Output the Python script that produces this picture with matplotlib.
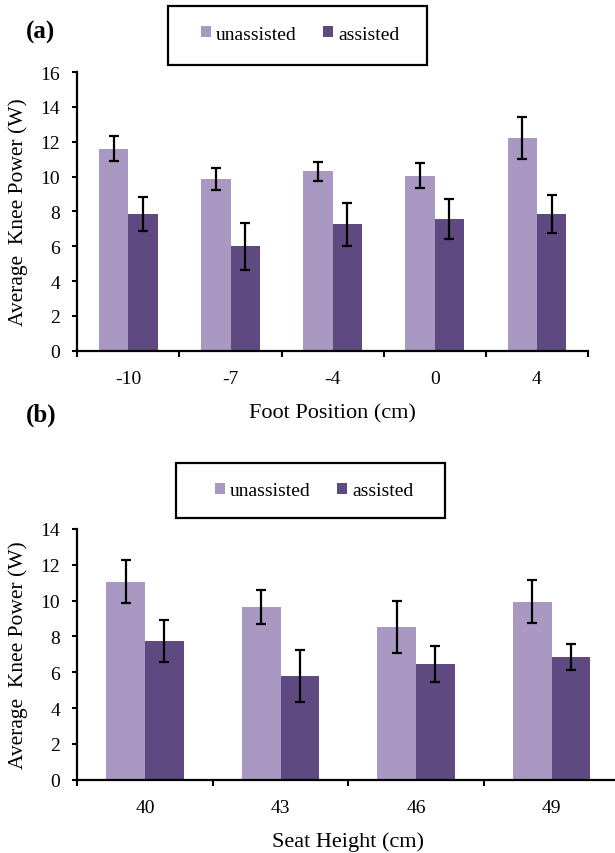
import matplotlib.pyplot as plt
import numpy as np
from matplotlib.patches import Rectangle

plt.rcParams['font.family'] = ['Liberation Serif', 'DejaVu Serif']

# Panel (a): foot position
foot_positions = ['-10', '-7', '-4', '0', '4']
foot_unassisted = [11.6, 9.85, 10.3, 10.05, 12.2]
foot_unassisted_err = [0.7, 0.65, 0.55, 0.7, 1.2]
foot_assisted = [7.85, 6.0, 7.25, 7.55, 7.85]
foot_assisted_err = [1.0, 1.35, 1.25, 1.15, 1.1]

# Panel (b): seat height
seat_heights = ['40', '43', '46', '49']
seat_unassisted = [11.05, 9.65, 8.55, 9.95]
seat_unassisted_err = [1.2, 0.95, 1.45, 1.22]
seat_assisted = [7.75, 5.8, 6.45, 6.85]
seat_assisted_err = [1.15, 1.47, 1.0, 0.72]

light = '#a898c2'
dark = '#5e4a80'
W, H = 615, 854


def draw_panel(ax, cats, unas, unas_err, ass, ass_err, ymax, xlabel, xlab_y, ylab_x):
    x = np.arange(len(cats))
    w = 0.287
    eb = dict(ecolor='black', elinewidth=1.6, capsize=3.8, capthick=1.6)
    b1 = ax.bar(x - w / 2, unas, w, color=light, yerr=unas_err, error_kw=eb, label='unassisted')
    b2 = ax.bar(x + w / 2, ass, w, color=dark, yerr=ass_err, error_kw=eb, label='assisted')
    ax.set_xlim(-0.5, len(cats) - 0.5)
    ax.set_ylim(0, ymax)
    ax.set_yticks(np.arange(0, ymax + 1, 2))
    ax.set_xticks(np.arange(len(cats) + 1) - 0.5)
    ax.set_xticklabels([])
    ax.set_xticks(x, minor=True)
    ax.set_xticklabels(cats, minor=True)
    ax.tick_params(axis='x', which='major', direction='out', length=4.5, width=1.5)
    ax.tick_params(axis='x', which='minor', length=0, pad=14, labelsize=14)
    ax.tick_params(axis='y', direction='out', length=3.5, width=1.5, pad=9, labelsize=14)
    for s in ['top', 'right']:
        ax.spines[s].set_visible(False)
    for s in ['left', 'bottom']:
        ax.spines[s].set_linewidth(1.6)
    ax.set_xlabel(xlabel, fontsize=16)
    ax.xaxis.set_label_coords(0.5, xlab_y)
    ax.set_ylabel('Average  Knee Power (W)', fontsize=15.5)
    ax.yaxis.set_label_coords(ylab_x, 0.5)
    return b1, b2


fig = plt.figure(figsize=(W / 100, H / 100), dpi=100)

ax1 = fig.add_axes([77.3 / W, 1 - 351.7 / H, 510.7 / W, 278.7 / H])
h1 = draw_panel(ax1, foot_positions, foot_unassisted, foot_unassisted_err,
                foot_assisted, foot_assisted_err, 16, 'Foot Position (cm)', -0.19, -0.0965)

ax2 = fig.add_axes([77.3 / W, 1 - 780.7 / H, 542 / W, 250.7 / H])
h2 = draw_panel(ax2, seat_heights, seat_unassisted, seat_unassisted_err,
                seat_assisted, seat_assisted_err, 14, 'Seat Height (cm)', -0.205, -0.091)

# legend boxes
for (x0, y0, x1, y1), handles, tx, ty in [((168, 7, 427, 66), h1, 300, 35),
                                           ((176, 464, 445, 519), h2, 314, 492)]:
    fig.patches.append(Rectangle((x0 / W, 1 - y1 / H), (x1 - x0) / W, (y1 - y0) / H,
                                 transform=fig.transFigure, fill=False,
                                 edgecolor='black', linewidth=1.6))
    fig.legend(handles, ['unassisted', 'assisted'], loc='center',
               bbox_to_anchor=(tx / W, 1 - ty / H), ncol=2, frameon=False,
               fontsize=14, handlelength=0.5, handleheight=0.5,
               handletextpad=0.25, columnspacing=1.4)

fig.text(40 / W, 1 - 32 / H, '(a)', fontsize=18, fontweight='bold', ha='center', va='center')
fig.text(41 / W, 1 - 415 / H, '(b)', fontsize=18, fontweight='bold', ha='center', va='center')

fig.savefig('out.png', dpi=100)
